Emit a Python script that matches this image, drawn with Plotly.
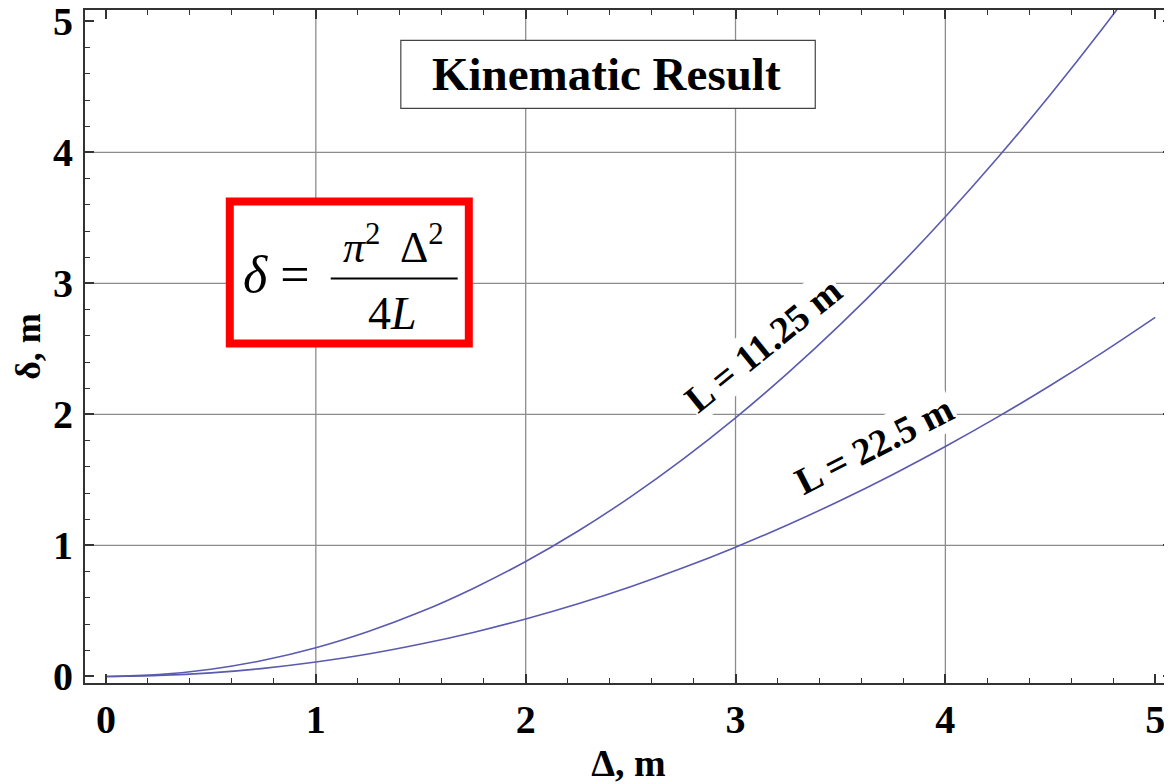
import plotly.graph_objects as go

# displacement Delta (m) and deflection delta (m)
delta_x = [0, 0.25, 0.5, 0.75, 1, 1.25, 1.5, 1.75, 2, 2.25, 2.5,
           2.75, 3, 3.25, 3.5, 3.75, 4, 4.25, 4.5, 4.75, 5]
defl_L1125 = [0, 0.014, 0.055, 0.123, 0.219, 0.343, 0.493, 0.672, 0.877, 1.110, 1.371,
              1.659, 1.974, 2.317, 2.687, 3.084, 3.509, 3.961, 4.441, 4.948, 5.483]
defl_L225 = [0, 0.007, 0.027, 0.062, 0.110, 0.171, 0.247, 0.336, 0.439, 0.555, 0.685,
             0.829, 0.987, 1.158, 1.343, 1.542, 1.755, 1.981, 2.221, 2.474, 2.741]
curve_labels = ["L = 11.25 m", "L = 22.5 m"]
x_ticks = [0, 1, 2, 3, 4, 5]
y_ticks = [0, 1, 2, 3, 4, 5]
grid_vals = [1, 2, 3, 4]

SERIF = "Liberation Serif, Times New Roman, serif"
LINE = "#5a5ab0"

fig = go.Figure()
fig.add_trace(go.Scatter(x=delta_x, y=defl_L1125, mode="lines", line=dict(color=LINE, width=1.6, shape="spline"),
                         name=curve_labels[0], showlegend=False))
fig.add_trace(go.Scatter(x=delta_x, y=defl_L225, mode="lines", line=dict(color=LINE, width=1.6, shape="spline"),
                         name=curve_labels[1], showlegend=False))

# grid lines only at interior integers
for g in grid_vals:
    fig.add_shape(type="line", x0=g, x1=g, y0=-0.05, y1=5.09, line=dict(color="#8c8c8c", width=1.3), layer="below")
    fig.add_shape(type="line", x0=-0.1, x1=5.08, y0=g, y1=g, line=dict(color="#8c8c8c", width=1.3), layer="below")

# title box
fig.add_shape(type="rect", x0=1.405, x1=3.38, y0=4.336, y1=4.855, line=dict(color="#444", width=1.2),
              fillcolor="white", layer="above")
fig.add_annotation(x=2.386, y=4.595, text="<b>Kinematic Result</b>", showarrow=False,
                   font=dict(family=SERIF, size=47, color="black"))

# formula box
fig.add_shape(type="rect", x0=0.59, x1=1.729, y0=2.542, y1=3.626, line=dict(color="#ff0000", width=8),
              fillcolor="white", layer="above")
fig.add_annotation(x=0.812, y=3.07, text="<i>δ</i> =", showarrow=False,
                   font=dict(family=SERIF, size=52, color="black"))
fig.add_annotation(x=1.372, y=3.30, text="<i>π</i><sup>2</sup>  Δ<sup>2</sup>", showarrow=False,
                   font=dict(family=SERIF, size=44, color="black"))
fig.add_shape(type="line", x0=1.071, x1=1.676, y0=3.038, y1=3.038, line=dict(color="black", width=2), layer="above")
fig.add_annotation(x=1.367, y=2.77, text="4<i>L</i>", showarrow=False,
                   font=dict(family=SERIF, size=46, color="black"))

# curve labels
fig.add_annotation(x=3.13, y=2.53, text="<b>" + curve_labels[0] + "</b>", textangle=-39, showarrow=False,
                   bgcolor="white", font=dict(family=SERIF, size=38, color="black"))
fig.add_annotation(x=3.66, y=1.77, text="<b>" + curve_labels[1] + "</b>", textangle=-27, showarrow=False,
                   bgcolor="white", font=dict(family=SERIF, size=38, color="black"))

axis_common = dict(
    showgrid=False, zeroline=False, showline=True, linecolor="#333", linewidth=2, mirror="allticks",
    ticks="inside", ticklen=9, tickwidth=1.5, tickcolor="#333", automargin=False,
    ticklabeloverflow="allow",
    tickfont=dict(family=SERIF, size=40, color="black", weight="bold"),
    minor=dict(ticks="inside", ticklen=5, tickwidth=1.2, tickcolor="#333", dtick=0.2, showgrid=False),
)

fig.update_xaxes(range=[-0.1, 5.08], tickvals=x_ticks, **axis_common,
                 title=dict(text="<b>Δ, m</b>", font=dict(family=SERIF, size=38, color="black"), standoff=10))
fig.update_yaxes(range=[-0.05, 5.087], tickvals=y_ticks, **axis_common, ticklabelstandoff=2,
                 title=dict(text="<b>δ, m</b>", font=dict(family=SERIF, size=36, color="black"), standoff=10))

# page body adds an 8px offset, so the figure is sized to fit the window
fig.update_layout(
    width=1164, height=776,
    margin=dict(l=77, r=0, t=2, b=101),
    paper_bgcolor="white", plot_bgcolor="white",
)

fig.write_html("out.html")
